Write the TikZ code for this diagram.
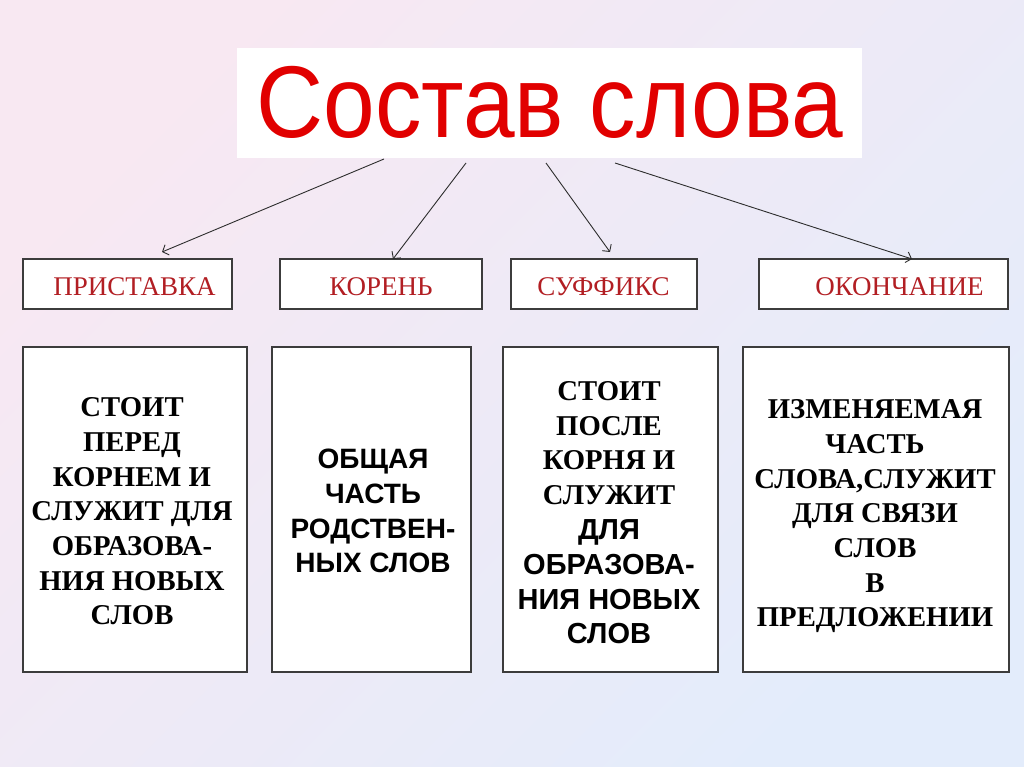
\documentclass[tikz,border=0pt]{standalone}
\usepackage{fontspec}
\usepackage{graphicx}
\usetikzlibrary{arrows.meta}
\newfontfamily\serifF{Liberation Serif}
\newfontfamily\sansF{Liberation Sans}
\definecolor{titlered}{RGB}{225,0,0}
\definecolor{hred}{RGB}{178,30,35}
\definecolor{boxgray}{RGB}{60,60,60}
\definecolor{arrgray}{RGB}{45,45,45}
\definecolor{bgpink}{RGB}{248,232,242}
\definecolor{bgmid}{RGB}{238,234,247}
\definecolor{bgblue}{RGB}{227,236,251}
\begin{document}
\begin{tikzpicture}[x=1pt,y=-1pt,
  hbox/.style={draw=boxgray, line width=1.8pt, fill=white, minimum height=50pt, inner sep=0pt, outer sep=0pt},
  cbox/.style={draw=boxgray, line width=1.8pt, fill=white, minimum height=325pt, inner sep=0pt, outer sep=0pt},
  htext/.style={anchor=base, inner sep=0pt, text=hred, font=\serifF\fontsize{27}{30}\selectfont},
  ctext/.style={anchor=north, inner sep=0pt, align=center, font=\serifF\bfseries\fontsize{28.7}{34.7}\selectfont},
  arr/.style={draw=arrgray, line width=0.9pt, -{Straight Barb[length=5pt,width=11pt]}}
]
\useasboundingbox (0,0) rectangle (1024,767);
\shade[top color=bgpink, middle color=bgmid, bottom color=bgblue, shading angle=45] (0,0) rectangle (1024,767);

% title
\node[fill=white, minimum width=625pt, minimum height=110pt, inner sep=0pt, outer sep=0pt] (T) at (549.5,103) {};
\node[anchor=base, inner sep=0pt, text=titlered, font=\sansF\fontsize{102}{110}\selectfont] (tt) at (550,138) {\scalebox{0.91}[1]{Состав слова}};

% headers
\node[hbox, minimum width=209pt] (H1) at (127.5,284) {};
\node[hbox, minimum width=202pt] (H2) at (381,284) {};
\node[hbox, minimum width=186pt] (H3) at (604,284) {};
\node[hbox, minimum width=249pt] (H4) at (883.5,284) {};
\node[htext] (h1t) at (134.5,295) {ПРИСТАВКА};
\node[htext] (h2t) at (381,295) {КОРЕНЬ};
\node[htext] (h3t) at (603.5,295) {СУФФИКС};
\node[htext] (h4t) at (899.5,295) {ОКОНЧАНИЕ};

% content boxes
\node[cbox, minimum width=224pt] (C1) at (135,509.5) {};
\node[cbox, minimum width=199pt] (C2) at (371.5,509.5) {};
\node[cbox, minimum width=215pt] (C3) at (610.5,509.5) {};
\node[cbox, minimum width=266pt] (C4) at (876,509.5) {};

\node[ctext] (c1t) at (132,397.5) {СТОИТ\\ПЕРЕД\\КОРНЕМ И\\СЛУЖИТ ДЛЯ\\ОБРАЗОВА-\\НИЯ НОВЫХ\\СЛОВ};
\node[ctext, font=\sansF\bfseries\fontsize{28}{34.7}\selectfont] (c2t) at (373,449) {ОБЩАЯ\\ЧАСТЬ\\РОДСТВЕН-\\НЫХ СЛОВ};
\node[ctext, font=\serifF\bfseries\fontsize{28.7}{34.8}\selectfont] (c3t) at (609,381) {СТОИТ\\ПОСЛЕ\\КОРНЯ И\\СЛУЖИТ\\{\sansF\fontsize{29}{34.8}\selectfont ДЛЯ}\\{\sansF\fontsize{29}{34.8}\selectfont ОБРАЗОВА-}\\{\sansF\fontsize{29}{34.8}\selectfont НИЯ НОВЫХ}\\{\sansF\fontsize{29}{34.8}\selectfont СЛОВ}};
\node[ctext] (c4t) at (875,399.5) {ИЗМЕНЯЕМАЯ\\ЧАСТЬ\\СЛОВА,СЛУЖИТ\\ДЛЯ СВЯЗИ\\СЛОВ\\В\\ПРЕДЛОЖЕНИИ};

% arrows
\draw[arr] ([xshift=147pt,yshift=-1pt]T.south west) -- ([xshift=139pt,yshift=7pt]H1.north west);
\draw[arr] ([xshift=229pt,yshift=-5pt]T.south west) -- ([xshift=113pt,yshift=0pt]H2.north west);
\draw[arr] ([xshift=309pt,yshift=-5pt]T.south west) -- ([xshift=99pt,yshift=7pt]H3.north west);
\draw[arr] ([xshift=378pt,yshift=-5pt]T.south west) -- ([xshift=153pt,yshift=0pt]H4.north west);
\end{tikzpicture}
\end{document}
